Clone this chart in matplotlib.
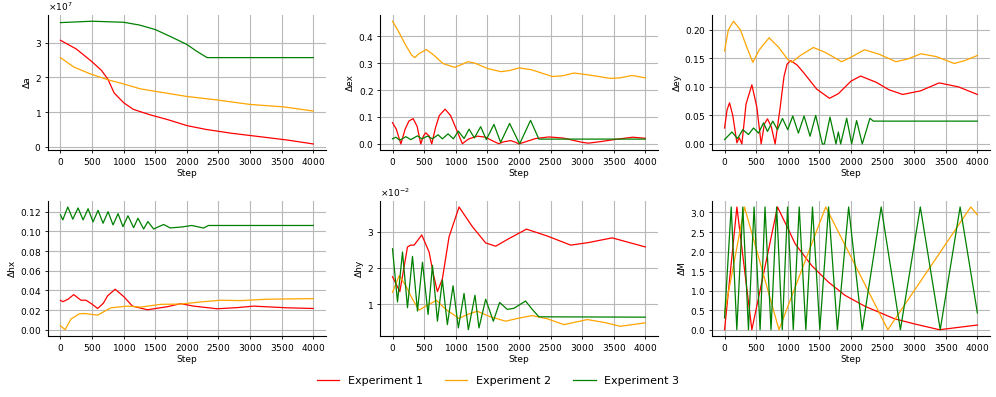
import numpy as np
import matplotlib
matplotlib.use('Agg')
import matplotlib.pyplot as plt

plt.rcParams['axes.formatter.use_mathtext'] = True

labels = ['Experiment 1', 'Experiment 2', 'Experiment 3']
colors = ['red', 'orange', 'green']

# ---- Delta a (x 1e7) ----
a1_steps = [0, 250, 500, 650, 750, 850, 1000, 1150, 1400, 1700, 2000, 2300, 2700, 3200, 3600, 4000]
a1_vals = [3.07, 2.82, 2.45, 2.2, 1.95, 1.55, 1.27, 1.08, 0.93, 0.78, 0.61, 0.5, 0.39, 0.28, 0.19, 0.08]
a2_steps = [0, 210, 474, 737, 1000, 1263, 1526, 2000, 2474, 3000, 3526, 4000]
a2_vals = [2.57, 2.3, 2.1, 1.94, 1.81, 1.67, 1.59, 1.45, 1.35, 1.22, 1.15, 1.03]
a3_steps = [0, 500, 1000, 1250, 1500, 1750, 2000, 2150, 2320, 4000]
a3_vals = [3.58, 3.62, 3.59, 3.51, 3.38, 3.17, 2.95, 2.76, 2.57, 2.57]

# ---- Delta ex ----
ex1_steps = [0, 60, 132, 200, 260, 326, 390, 447, 490, 526, 580, 621, 680, 740, 832, 920, 1000,
             1105, 1200, 1342, 1474, 1580, 1680, 1760, 1868, 1950, 2000, 2130, 2263, 2474, 2700,
             3000, 3100, 3300, 3500, 3800, 4000]
ex1_vals = [0.079, 0.055, 0.0, 0.055, 0.085, 0.094, 0.065, 0.0, 0.03, 0.041, 0.03, 0.0, 0.06, 0.105,
            0.129, 0.105, 0.06, 0.001, 0.018, 0.029, 0.025, 0.012, 0.001, 0.008, 0.0125, 0.006, 0.0,
            0.01, 0.02, 0.026, 0.022, 0.006, 0.003, 0.009, 0.016, 0.025, 0.021]
ex2_steps = [0, 100, 200, 300, 352, 420, 535, 650, 800, 982, 1100, 1191, 1300, 1500, 1716, 1850,
             2005, 2200, 2530, 2700, 2871, 3100, 3448, 3600, 3790, 4000]
ex2_vals = [0.455, 0.415, 0.37, 0.33, 0.32, 0.335, 0.35, 0.33, 0.298, 0.284, 0.295, 0.305, 0.3, 0.28,
            0.268, 0.272, 0.282, 0.275, 0.25, 0.253, 0.263, 0.256, 0.243, 0.245, 0.254, 0.245]
ex3_steps = [0, 53, 116, 211, 289, 395, 463, 553, 632, 721, 789, 879, 963, 1042, 1132, 1211, 1295,
             1395, 1484, 1605, 1711, 1853, 2011, 2184, 2316, 4000]
ex3_vals = [0.019, 0.025, 0.014, 0.027, 0.016, 0.03, 0.019, 0.029, 0.019, 0.034, 0.019, 0.0375, 0.019,
            0.0475, 0.02, 0.055, 0.0225, 0.064, 0.016, 0.0725, 0.006, 0.076, 0.0, 0.0875, 0.018, 0.018]

# ---- Delta ey ----
ey1_steps = [0, 40, 79, 130, 195, 232, 274, 340, 432, 510, 579, 630, 679, 740, 800, 880, 940, 990,
             1047, 1150, 1250, 1458, 1660, 1800, 2000, 2152, 2400, 2600, 2818, 3100, 3396, 3700, 4000]
ey1_vals = [0.028, 0.06, 0.072, 0.05, 0.002, 0.011, 0.0, 0.07, 0.1035, 0.065, 0.0, 0.035, 0.044, 0.03,
            0.0, 0.064, 0.118, 0.14, 0.146, 0.138, 0.125, 0.096, 0.08, 0.088, 0.11, 0.119, 0.108,
            0.095, 0.0867, 0.093, 0.107, 0.1, 0.0867]
ey2_steps = [0, 60, 142, 250, 350, 447, 550, 705, 850, 1000, 1063, 1200, 1405, 1600, 1853, 2000,
             2215, 2450, 2714, 2900, 3108, 3350, 3633, 3800, 4000]
ey2_vals = [0.163, 0.2, 0.215, 0.2, 0.17, 0.143, 0.165, 0.186, 0.17, 0.148, 0.143, 0.155, 0.169, 0.16,
            0.144, 0.152, 0.165, 0.157, 0.144, 0.149, 0.158, 0.153, 0.141, 0.146, 0.155]
ey3_steps = [0, 116, 205, 289, 379, 458, 537, 616, 679, 763, 837, 916, 1000, 1079, 1168, 1258, 1353,
             1442, 1547, 1580, 1668, 1763, 1800, 1837, 1932, 2011, 2089, 2179, 2300, 2353, 4000]
ey3_vals = [0.0076, 0.021, 0.0094, 0.025, 0.0165, 0.028, 0.019, 0.037, 0.022, 0.04, 0.025, 0.0447,
            0.025, 0.049, 0.019, 0.049, 0.0135, 0.05, 0.0, 0.0, 0.047, 0.0, 0.021, 0.0, 0.045, 0.0,
            0.041, 0.0, 0.045, 0.04, 0.04]

# ---- Delta hx ----
hx1_steps = [0, 37, 120, 210, 325, 404, 500, 588, 680, 745, 866, 1008, 1139, 1375, 1690, 1900, 2110,
             2478, 2800, 3055, 3580, 4000]
hx1_vals = [0.0299, 0.0285, 0.031, 0.0357, 0.03, 0.03, 0.026, 0.0216, 0.027, 0.0344, 0.0412, 0.0333,
            0.024, 0.0203, 0.0234, 0.0265, 0.024, 0.0213, 0.0225, 0.024, 0.0223, 0.0216]
hx2_steps = [0, 73, 168, 299, 378, 588, 798, 1060, 1270, 1585, 1900, 2215, 2530, 2845, 3265, 3580, 4000]
hx2_vals = [0.0041, 0.0, 0.011, 0.0162, 0.0165, 0.0148, 0.0223, 0.024, 0.023, 0.0258, 0.0261, 0.0282,
            0.03, 0.0296, 0.031, 0.0313, 0.0316]
hx3_steps = [0, 37, 116, 195, 279, 358, 437, 516, 595, 674, 753, 832, 911, 989, 1068, 1158, 1226,
             1316, 1384, 1474, 1632, 1737, 1921, 2079, 2263, 2342, 4000]
hx3_vals = [0.1169, 0.1117, 0.1248, 0.1124, 0.1238, 0.1117, 0.123, 0.1097, 0.1214, 0.1083, 0.12,
            0.1066, 0.118, 0.1048, 0.1159, 0.1038, 0.1134, 0.1024, 0.11, 0.1024, 0.107, 0.1035,
            0.1045, 0.106, 0.1034, 0.106, 0.106]

# ---- Delta hy (x 1e-2) ----
hy1_steps = [0, 116, 180, 237, 289, 342, 463, 579, 650, 711, 789, 895, 1053, 1263, 1474, 1632, 1842,
             2120, 2450, 2819, 3100, 3475, 4000]
hy1_vals = [1.76, 1.35, 2.0, 2.58, 2.63, 2.63, 2.91, 2.44, 1.8, 1.35, 1.7, 2.86, 3.68, 3.14, 2.69, 2.6,
            2.81, 3.07, 2.88, 2.63, 2.7, 2.83, 2.58]
hy2_steps = [0, 105, 211, 316, 421, 526, 695, 842, 1053, 1184, 1342, 1526, 1789, 2000, 2211, 2450,
             2714, 3081, 3350, 3606, 4000]
hy2_vals = [1.33, 1.79, 1.51, 1.14, 0.84, 0.95, 1.11, 0.86, 0.61, 0.72, 0.81, 0.67, 0.535, 0.62, 0.69,
            0.6, 0.44, 0.58, 0.5, 0.395, 0.49]
hy3_steps = [0, 79, 158, 237, 316, 395, 474, 563, 632, 711, 789, 868, 958, 1042, 1132, 1200, 1305,
             1368, 1474, 1595, 1695, 1816, 1921, 2105, 2211, 2316, 4000]
hy3_vals = [2.53, 1.065, 2.44, 0.907, 2.32, 0.814, 2.16, 0.72, 2.07, 0.535, 1.67, 0.44, 1.51, 0.35,
            1.3, 0.3, 1.25, 0.35, 1.14, 0.535, 1.05, 0.86, 0.89, 1.09, 0.86, 0.656, 0.646]

# ---- Delta M ----
m1_steps = [0, 195, 432, 837, 1000, 1116, 1379, 1642, 1905, 2221, 2688, 3000, 3213, 3400, 4000]
m1_vals = [0.0, 3.14, 0.0, 3.14, 2.6, 2.2, 1.64, 1.22, 0.88, 0.6, 0.28, 0.15, 0.07, 0.0, 0.12]
m2_steps = [0, 315, 861, 1601, 2583, 3895, 4000]
m2_vals = [0.43, 3.14, 0.0, 3.14, 0.0, 3.14, 2.94]
m3_steps = [0, 105, 194, 289, 378, 467, 562, 640, 735, 824, 913, 997, 1087, 1181, 1286, 1391, 1507,
            1646, 1785, 1963, 2178, 2478, 2782, 3097, 3412, 3727, 4000]
m3_vals = [0.3, 3.14, 0, 3.14, 0, 3.14, 0, 3.14, 0, 3.14, 0, 3.14, 0, 3.14, 0, 3.14, 0, 3.14, 0,
           3.14, 0, 3.14, 0, 3.14, 0, 3.14, 0.43]

panels = [
    ('Δa', [(a1_steps, np.array(a1_vals) * 1e7), (a2_steps, np.array(a2_vals) * 1e7),
            (a3_steps, np.array(a3_vals) * 1e7)], False),
    ('Δex', [(ex1_steps, ex1_vals), (ex2_steps, ex2_vals), (ex3_steps, ex3_vals)], False),
    ('Δey', [(ey1_steps, ey1_vals), (ey2_steps, ey2_vals), (ey3_steps, ey3_vals)], False),
    ('Δhx', [(hx1_steps, hx1_vals), (hx2_steps, hx2_vals), (hx3_steps, hx3_vals)], False),
    ('Δhy', [(hy1_steps, np.array(hy1_vals) * 1e-2), (hy2_steps, np.array(hy2_vals) * 1e-2),
             (hy3_steps, np.array(hy3_vals) * 1e-2)], True),
    ('ΔM', [(m1_steps, m1_vals), (m2_steps, m2_vals), (m3_steps, m3_vals)], False),
]

fig, axes = plt.subplots(2, 3, figsize=(9.96, 3.97), dpi=100)
fig.subplots_adjust(left=0.048, right=0.994, top=0.962, bottom=0.154, wspace=0.194, hspace=0.376)

for ax, (ylabel, series, sci) in zip(axes.flat, panels):
    lines = []
    for (steps, vals), c, lab in zip(series, colors, labels):
        ln, = ax.plot(steps, vals, color=c, linewidth=0.9, label=lab)
        lines.append(ln)
    ax.set_xticks([0, 500, 1000, 1500, 2000, 2500, 3000, 3500, 4000])
    ax.set_xlabel('Step', fontsize=6.5, labelpad=1)
    ax.set_ylabel(ylabel, fontsize=6.5, labelpad=2)
    ax.tick_params(labelsize=6.5, length=2.5, width=0.6, pad=2)
    ax.grid(True, color='#b8b8b8', linewidth=0.8)
    ax.set_axisbelow(True)
    for s in ['top', 'right']:
        ax.spines[s].set_visible(False)
    for s in ['left', 'bottom']:
        ax.spines[s].set_linewidth(0.8)
    if sci:
        ax.ticklabel_format(axis='y', style='sci', scilimits=(0, 0))
    ax.yaxis.get_offset_text().set_fontsize(6.5)

fig.legend(lines, labels, loc='center', bbox_to_anchor=(0.5, 0.041), ncol=3, frameon=False,
           fontsize=8)

fig.savefig('out.png', dpi=100)
